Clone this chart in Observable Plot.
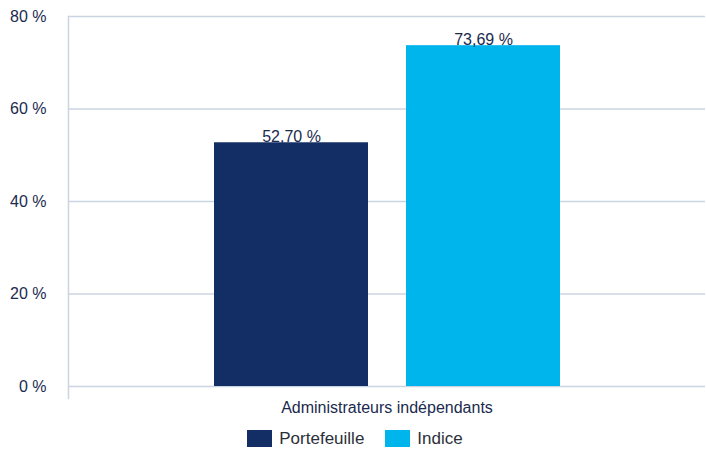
<!DOCTYPE html>
<html>
<head>
<meta charset="utf-8">
<script src="https://cdn.jsdelivr.net/npm/d3@7"></script>
<script src="https://cdn.jsdelivr.net/npm/@observablehq/plot@0.6"></script>
<style>
  body { margin: 0; background: #fff; font-family: "Liberation Sans", Arial, sans-serif; }
  #chart svg { display: block; }
  .legend { display: flex; justify-content: center; gap: 21px; font-size: 17px; color: #2b2f3a; margin-top: 8px; margin-left: 4px; line-height: 17px; }
  .legend span { display: inline-flex; align-items: center; }
  .legend i { display: inline-block; width: 25px; height: 17px; margin-right: 7px; }
</style>
</head>
<body>
<div id="chart"></div>
<div class="legend" id="legend"></div>
<script>
const category = "Administrateurs indépendants";
const series = ["Portefeuille", "Indice"];
const values = [52.70, 73.69];
const colors = ["#132e65", "#00b4ec"];
const yTicks = [0, 20, 40, 60, 80];

const data = series.map((s, i) => ({ category, series: s, value: values[i] }));
const fmt = v => v.toFixed(2).replace(".", ",") + " %";
const textColor = "#1b2a4e";
const lineColor = "#cbd5e2";

const chart = Plot.plot({
  width: 706,
  height: 422,
  marginLeft: 68,
  marginRight: 1,
  marginTop: 16,
  marginBottom: 36,
  style: { fontFamily: "Liberation Sans, Arial, sans-serif", fontSize: "16px", color: textColor, background: "#fff" },
  fx: { domain: [category], padding: 0, label: null },
  x: { domain: series, paddingInner: 0.2, paddingOuter: 0.755, axis: null },
  y: { domain: [0, 80], ticks: yTicks, label: null },
  color: { domain: series, range: colors },
  marks: [
    Plot.gridY(yTicks, { stroke: lineColor, strokeOpacity: 1, strokeWidth: 1.5 }),
    Plot.frame({ anchor: "left", stroke: lineColor, strokeWidth: 1.5, insetBottom: -12 }),
    Plot.axisY({ ticks: yTicks, tickSize: 0, tickPadding: 22, tickFormat: d => d + " %", fontSize: 16, fill: textColor }),
    Plot.axisFx({ anchor: "bottom", tickSize: 0, tickPadding: 15, fontSize: 16, fill: textColor, label: null }),
    Plot.barY(data, { fx: "category", x: "series", y: "value", fill: "series" }),
    Plot.text(data, { fx: "category", x: "series", y: "value", text: d => fmt(d.value), lineAnchor: "bottom", dy: -1, fontSize: 16, fill: textColor })
  ]
});
document.getElementById("chart").appendChild(chart);

const legend = document.getElementById("legend");
series.forEach((s, i) => {
  const span = document.createElement("span");
  const sw = document.createElement("i");
  sw.style.background = colors[i];
  span.appendChild(sw);
  span.appendChild(document.createTextNode(s));
  legend.appendChild(span);
});
</script>
</body>
</html>
